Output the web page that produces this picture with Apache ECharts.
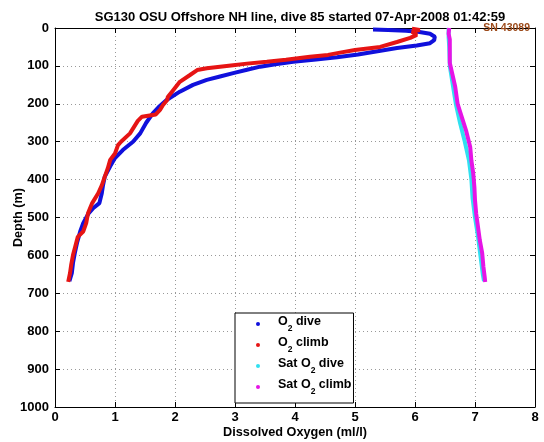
<!DOCTYPE html>
<html>
<head>
<meta charset="utf-8">
<script src="https://cdn.jsdelivr.net/npm/echarts@6/dist/echarts.min.js"></script>
<style>html,body{margin:0;padding:0;background:#fff;}#c{width:544px;height:442px;}</style>
</head>
<body>
<div id="c"></div>
<script>
// ---- data ----
var titleText = 'SG130 OSU Offshore NH line, dive 85 started 07-Apr-2008 01:42:59';
var serialText = 'SN 43089';
var seriesNames = ['O2 dive', 'O2 climb', 'Sat O2 dive', 'Sat O2 climb'];
var xTicks = [0, 1, 2, 3, 4, 5, 6, 7, 8];
var yTicks = [0, 100, 200, 300, 400, 500, 600, 700, 800, 900, 1000];

var o2DiveDepth = [4, 5, 7, 10, 15, 23, 32, 40, 46, 53, 62, 70, 77, 83, 89, 95, 102, 110, 119, 128, 137, 150, 168, 190, 210, 225, 250, 278, 300, 322, 343, 365, 392, 415, 436, 462, 475, 489, 515, 537, 565, 594, 620, 647, 668];
var o2DiveVal   = [5.30, 5.55, 5.85, 6.05, 6.25, 6.33, 6.32, 6.25, 6.03, 5.70, 5.35, 5.05, 4.70, 4.35, 3.97, 3.70, 3.42, 3.20, 2.97, 2.75, 2.53, 2.30, 2.08, 1.86, 1.72, 1.63, 1.52, 1.42, 1.30, 1.13, 1.00, 0.92, 0.83, 0.80, 0.78, 0.74, 0.64, 0.56, 0.47, 0.42, 0.37, 0.33, 0.30, 0.28, 0.24];

var o2ClimbDepth = [2, 5, 10, 14, 18, 26, 37, 50, 58, 65, 71, 76, 84, 89, 94, 98, 106, 111, 124, 142, 164, 182, 190, 203, 216, 228, 234, 245, 278, 300, 309, 331, 348, 370, 392, 415, 436, 462, 489, 515, 537, 551, 575, 599, 625, 647, 670];
var o2ClimbVal   = [5.95, 6.08, 5.95, 5.92, 6.03, 5.92, 5.70, 5.42, 5.00, 4.75, 4.55, 4.25, 3.85, 3.53, 3.20, 2.97, 2.53, 2.37, 2.25, 2.08, 1.97, 1.88, 1.87, 1.80, 1.75, 1.68, 1.45, 1.38, 1.25, 1.10, 1.05, 1.00, 0.92, 0.88, 0.83, 0.78, 0.72, 0.62, 0.55, 0.52, 0.47, 0.38, 0.34, 0.30, 0.27, 0.25, 0.22];

var satDiveDepth = [0, 25, 50, 100, 150, 200, 250, 300, 350, 400, 450, 500, 550, 600, 650, 668];
var satDiveVal   = [6.56, 6.56, 6.57, 6.58, 6.63, 6.68, 6.75, 6.83, 6.90, 6.94, 6.96, 7.00, 7.05, 7.09, 7.13, 7.15];

var satClimbDepth = [0, 15, 30, 50, 92, 120, 155, 200, 235, 270, 314, 350, 383, 420, 454, 490, 525, 560, 594, 630, 655, 670];
var satClimbVal   = [6.57, 6.56, 6.58, 6.58, 6.58, 6.62, 6.67, 6.71, 6.78, 6.85, 6.92, 6.94, 6.97, 6.99, 7.00, 7.02, 7.05, 7.08, 7.12, 7.14, 7.16, 7.17];

function pairs(vals, depths) {
  var out = [];
  for (var i = 0; i < vals.length; i++) out.push([vals[i], depths[i]]);
  return out;
}

var colors = ['#1010dc', '#e61414', '#30e0f0', '#e614e6'];
var FONT = '"Liberation Sans", Arial, Helvetica, sans-serif';

function legendLabel(name) {
  var i = name.indexOf('O2');
  var pre = name.slice(0, i) + 'O';
  var post = name.slice(i + 2);
  return '{n|' + pre + '}{s|2}{n|' + post + '}';
}

var chart = echarts.init(document.getElementById('c'), null, {renderer: 'canvas'});
var axisCommon = {
  axisLine: {show: true, onZero: false, lineStyle: {color: '#000', width: 1}},
  axisTick: {show: true, inside: true, length: 5, lineStyle: {color: '#000'}},
};
chart.setOption({
  animation: false,
  backgroundColor: '#fff',
  textStyle: {fontFamily: FONT},
  title: [
    {text: titleText, left: 295, textAlign: 'center', top: 6,
     textStyle: {fontFamily: FONT, fontSize: 13, fontWeight: 'bold', color: '#000'}},
    {text: serialText, right: 9, top: 18,
     textStyle: {fontFamily: FONT, fontSize: 10.5, fontWeight: 'bold', color: '#9c4a1a'}}
  ],
  grid: {left: 55, top: 28, right: 9, bottom: 35, containLabel: false, outerBoundsMode: 'none'},
  legend: {
    orient: 'vertical', left: 235, top: 313,
    data: seriesNames,
    icon: 'circle', itemWidth: 30, itemHeight: 4, itemGap: 3,
    padding: [2, 2, 7, 21],
    backgroundColor: '#fff', borderColor: '#000', borderWidth: 1,
    formatter: legendLabel,
    textStyle: {
      fontFamily: FONT, color: '#000',
      rich: {
        n: {fontFamily: FONT, fontSize: 12.5, fontWeight: 'bold', color: '#000', lineHeight: 14, verticalAlign: 'top'},
        s: {fontFamily: FONT, fontSize: 8.5, fontWeight: 'bold', color: '#000', lineHeight: 18, verticalAlign: 'bottom'}
      }
    }
  },
  xAxis: [
    Object.assign({
      type: 'value', position: 'bottom', min: xTicks[0], max: xTicks[xTicks.length - 1], interval: 1,
      name: 'Dissolved Oxygen (ml/l)', nameLocation: 'middle', nameGap: 19, nameMoveOverlap: false,
      nameTextStyle: {fontFamily: FONT, fontSize: 12.7, fontWeight: 'bold', color: '#000'},
      axisLabel: {fontFamily: FONT, fontSize: 13, fontWeight: 'bold', color: '#000', margin: 4},
      splitLine: {show: true, lineStyle: {color: '#999', type: [1, 3], width: 1}}
    }, axisCommon),
    Object.assign({
      type: 'value', position: 'top', min: xTicks[0], max: xTicks[xTicks.length - 1], interval: 1,
      axisLabel: {show: false}, splitLine: {show: false}
    }, axisCommon)
  ],
  yAxis: [
    Object.assign({
      type: 'value', inverse: true, position: 'left', min: yTicks[0], max: yTicks[yTicks.length - 1], interval: 100,
      name: 'Depth (m)', nameLocation: 'middle', nameGap: 30, nameRotate: 90, nameMoveOverlap: false,
      nameTextStyle: {fontFamily: FONT, fontSize: 12.7, fontWeight: 'bold', color: '#000'},
      axisLabel: {fontFamily: FONT, fontSize: 13, fontWeight: 'bold', color: '#000', margin: 6,
                  formatter: function (v) { return String(v); }},
      splitLine: {show: true, lineStyle: {color: '#999', type: [1, 3], width: 1}}
    }, axisCommon),
    Object.assign({
      type: 'value', inverse: true, position: 'right', min: yTicks[0], max: yTicks[yTicks.length - 1], interval: 100,
      axisLabel: {show: false}, splitLine: {show: false}
    }, axisCommon)
  ],
  series: [
    {name: seriesNames[0], type: 'line', data: pairs(o2DiveVal, o2DiveDepth), showSymbol: false, symbol: 'circle',
     lineStyle: {color: colors[0], width: 4}, itemStyle: {color: colors[0]}, z: 2},
    {name: seriesNames[1], type: 'line', data: pairs(o2ClimbVal, o2ClimbDepth), showSymbol: false, symbol: 'circle',
     lineStyle: {color: colors[1], width: 4}, itemStyle: {color: colors[1]}, z: 3},
    {name: seriesNames[2], type: 'line', data: pairs(satDiveVal, satDiveDepth), showSymbol: false, symbol: 'circle',
     lineStyle: {color: colors[2], width: 4}, itemStyle: {color: colors[2]}, z: 4},
    {name: seriesNames[3], type: 'line', data: pairs(satClimbVal, satClimbDepth), showSymbol: false, symbol: 'circle',
     lineStyle: {color: colors[3], width: 4}, itemStyle: {color: colors[3]}, z: 5}
  ]
});
</script>
</body>
</html>
